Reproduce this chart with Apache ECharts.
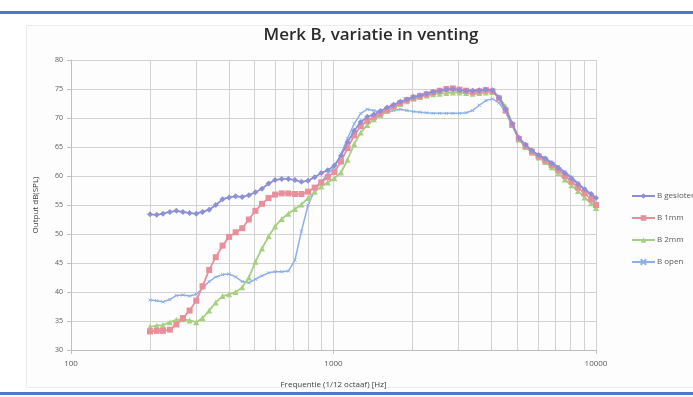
<!DOCTYPE html>
<html>
<head>
<meta charset="utf-8">
<script src="https://cdn.jsdelivr.net/npm/echarts@6/dist/echarts.min.js"></script>
<style>
  html, body { margin: 0; padding: 0; background: #ffffff; }
  #chart { width: 693px; height: 397px; }
</style>
</head>
<body>
<div id="chart"></div>
<script>
// Measurement frequencies, 1/12 octave steps [Hz]
const freqHz = [200, 212, 224, 238, 252, 267, 283, 300, 317, 336, 356, 378, 400, 424, 449, 476,
  504, 534, 566, 599, 635, 673, 713, 755, 800, 848, 898, 951, 1008, 1068, 1131, 1199, 1270,
  1345, 1425, 1510, 1600, 1695, 1796, 1903, 2016, 2136, 2263, 2397, 2540, 2691, 2851, 3020,
  3200, 3390, 3592, 3805, 4032, 4271, 4525, 4794, 5080, 5382, 5702, 6041, 6400, 6781, 7184,
  7611, 8063, 8543, 9051, 9589, 10000];

// Output dB(SPL) per venting variant
const bGesloten = [53.4, 53.3, 53.5, 53.8, 54.0, 53.8, 53.6, 53.5, 53.8, 54.2, 55.0, 56.0, 56.3,
  56.5, 56.4, 56.7, 57.2, 57.8, 58.7, 59.3, 59.5, 59.5, 59.3, 59.0, 59.2, 59.8, 60.5, 61.0, 61.8,
  63.5, 65.8, 67.8, 69.3, 70.2, 70.6, 71.2, 71.8, 72.3, 72.8, 73.2, 73.6, 73.9, 74.2, 74.5, 74.7,
  74.9, 75.0, 74.8, 74.7, 74.7, 74.8, 74.9, 74.8, 73.5, 71.5, 69.0, 66.6, 65.4, 64.4, 63.6, 63.0,
  62.2, 61.4, 60.5, 59.6, 58.6, 57.7, 56.9, 56.2];

const b1mm = [33.2, 33.3, 33.3, 33.5, 34.4, 35.5, 36.8, 38.5, 41.0, 43.8, 46.0, 48.0, 49.5, 50.3,
  51.0, 52.5, 54.0, 55.2, 56.2, 56.8, 57.0, 57.0, 56.9, 56.9, 57.3, 58.0, 58.9, 59.8, 60.7, 62.5,
  64.8, 67.0, 68.6, 69.5, 70.2, 70.8, 71.4, 72.0, 72.6, 73.1, 73.5, 73.8, 74.1, 74.4, 74.7, 75.0,
  75.1, 74.9, 74.7, 74.5, 74.6, 74.8, 74.6, 73.4, 71.3, 68.8, 66.4, 65.2, 64.2, 63.4, 62.7, 61.9,
  61.0, 60.0, 59.0, 58.0, 57.0, 56.0, 55.0];

const b2mm = [34.0, 34.2, 34.3, 34.8, 35.2, 35.3, 35.1, 34.8, 35.5, 36.8, 38.2, 39.3, 39.6, 40.0,
  40.8, 42.5, 45.2, 47.5, 49.6, 51.3, 52.6, 53.5, 54.3, 55.1, 56.2, 57.3, 58.2, 58.9, 59.6, 60.6,
  62.8, 65.5, 67.5, 68.8, 69.8, 70.5, 71.2, 71.8, 72.4, 72.9, 73.3, 73.6, 73.9, 74.1, 74.2, 74.3,
  74.4, 74.4, 74.3, 74.2, 74.3, 74.4, 74.5, 73.6, 72.0, 69.0, 66.3, 65.0, 64.0, 63.2, 62.4, 61.5,
  60.5, 59.4, 58.4, 57.4, 56.3, 55.3, 54.5];

const bOpen = [38.6, 38.5, 38.3, 38.7, 39.4, 39.5, 39.3, 39.6, 40.6, 41.8, 42.6, 43.0, 43.1, 42.6,
  41.8, 41.6, 42.2, 42.8, 43.3, 43.5, 43.5, 43.6, 45.5, 50.5, 55.0, 57.5, 59.0, 60.3, 61.5, 63.8,
  66.5, 69.0, 70.8, 71.5, 71.3, 71.0, 71.0, 71.3, 71.5, 71.3, 71.1, 71.0, 70.9, 70.8, 70.8, 70.8,
  70.8, 70.8, 70.9, 71.3, 72.2, 73.0, 73.3, 72.6, 71.0, 68.6, 66.4, 65.0, 64.3, 63.7, 63.1, 62.4,
  61.6, 60.7, 59.8, 58.8, 57.7, 56.5, 55.3];

// Intermediate frequencies for the vertical log grid
const minorGridHz = [200, 300, 400, 500, 600, 700, 800, 900, 2000, 3000, 4000, 5000, 6000, 7000, 8000, 9000];

const seriesNames = ['B gesloten', 'B 1mm', 'B 2mm', 'B open'];
const seriesValues = [bGesloten, b1mm, b2mm, bOpen];
const seriesColors = ['#8f8fd6', '#e98f9c', '#a6cf80', '#8fb0e6'];
const seriesSymbols = ['diamond', 'rect', 'triangle', 'path://M0,0L10,10M10,0L0,10'];
const seriesSymbolSizes = [6, 6, 6, 3];

const gridColor = '#d2d2d2';
const textColor = '#595959';
const fontFamily = '"Open Sans", "Liberation Sans", sans-serif';

const pairs = vals => freqHz.map((f, i) => [f, vals[i]]);

const chart = echarts.init(document.getElementById('chart'), null, { renderer: 'canvas' });

const series = seriesValues.map((vals, i) => ({
  name: seriesNames[i],
  type: 'line',
  data: pairs(vals),
  color: seriesColors[i],
  symbol: seriesSymbols[i],
  symbolSize: seriesSymbolSizes[i],
  showSymbol: true,
  showAllSymbol: true,
  lineStyle: { width: i === 3 ? 1.5 : 1.8, color: seriesColors[i] },
  itemStyle: i === 3
    ? { color: seriesColors[i], borderColor: seriesColors[i], borderWidth: 1 }
    : { color: seriesColors[i] },
  z: 10 - i,
  animation: false
}));

// vertical grid lines at 200..900 and 2000..9000 Hz
series.push({
  name: 'grid',
  type: 'line',
  data: [],
  silent: true,
  z: 1,
  markLine: {
    silent: true,
    symbol: ['none', 'none'],
    label: { show: false },
    lineStyle: { color: gridColor, type: 'solid', width: 1 },
    data: minorGridHz.map(f => ({ xAxis: f })),
    animation: false
  }
});

chart.setOption({
  animation: false,
  backgroundColor: '#ffffff',
  graphic: [
    { type: 'rect', shape: { x: 0, y: 11, width: 693, height: 3 }, style: { fill: '#4a7bc4' }, z: 0 },
    { type: 'rect', shape: { x: 0, y: 392, width: 693, height: 3 }, style: { fill: '#4a7bc4' }, z: 0 },
    { type: 'rect', shape: { x: 26.5, y: 25.5, width: 700, height: 362 }, style: { fill: '#fdfdfd', stroke: '#ececec', lineWidth: 1 }, z: -1 }
  ],
  title: {
    text: 'Merk B, variatie in venting',
    left: 366,
    textAlign: 'center',
    top: 22,
    textStyle: { fontFamily: fontFamily, fontSize: 17, fontWeight: 600, color: '#2b2b2b' }
  },
  legend: {
    orient: 'vertical',
    left: 626,
    top: 187,
    itemWidth: 23,
    itemHeight: 7,
    itemGap: 14,
    data: seriesNames,
    textStyle: { fontFamily: fontFamily, fontSize: 8, color: textColor, padding: [0, 0, 0, -3] }
  },
  grid: { left: 71, right: 97, top: 60, bottom: 47, containLabel: false },
  xAxis: {
    type: 'log',
    logBase: 10,
    min: 100,
    max: 10000,
    name: 'Frequentie (1/12 octaaf) [Hz]',
    nameLocation: 'middle',
    nameGap: 31,
    nameTextStyle: { fontFamily: fontFamily, fontSize: 8, color: '#404040' },
    axisLine: { show: true, lineStyle: { color: '#bfbfbf' } },
    axisTick: { show: true, length: 4, lineStyle: { color: '#bfbfbf' } },
    axisLabel: { fontFamily: fontFamily, fontSize: 8, color: textColor, margin: 10, formatter: v => String(Math.round(v)) },
    splitLine: { show: true, lineStyle: { color: gridColor } }
  },
  yAxis: {
    type: 'value',
    min: 30,
    max: 80,
    interval: 5,
    name: 'Output dB(SPL)',
    nameLocation: 'middle',
    nameRotate: 90,
    nameGap: 31,
    nameTextStyle: { fontFamily: fontFamily, fontSize: 8, color: '#404040' },
    axisLine: { show: true, lineStyle: { color: '#bfbfbf' } },
    axisTick: { show: true, length: 4, lineStyle: { color: '#bfbfbf' } },
    axisLabel: { fontFamily: fontFamily, fontSize: 7, color: textColor, margin: 8 },
    splitLine: { show: true, lineStyle: { color: gridColor } }
  },
  tooltip: { show: false },
  series: series
});
</script>
</body>
</html>
